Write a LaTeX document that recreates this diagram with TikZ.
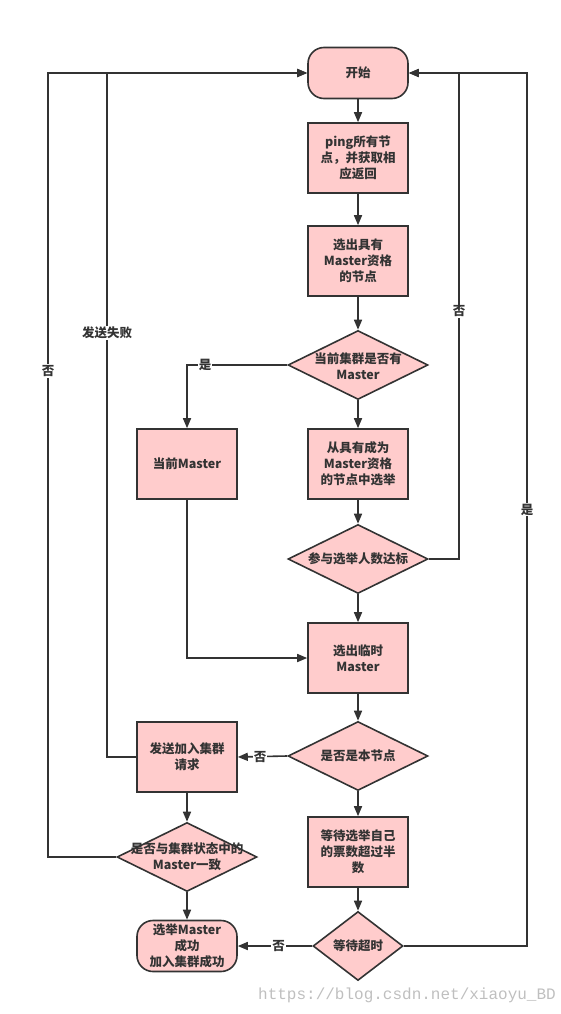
\documentclass[tikz,border=0pt]{standalone}
\usepackage{fontspec}
\setmainfont{Noto Sans CJK SC}
\newfontfamily\wmfont{Liberation Mono}
\usetikzlibrary{shapes.geometric,arrows.meta}
\definecolor{fillpink}{HTML}{FFCCCC}
\definecolor{ink}{HTML}{333333}
\tikzset{
  base/.style={draw=ink, line width=1.6pt, fill=fillpink, text=ink, font=\bfseries\fontsize{12.5}{16}\selectfont, align=center, inner sep=0pt},
  procbox/.style={base, minimum width=100pt, minimum height=70pt},
  termbox/.style={base, rounded corners=16pt, minimum width=100pt, minimum height=51pt},
  decbox/.style={base, shape=diamond, minimum width=140pt, minimum height=69pt},
  smalldec/.style={base, shape=diamond, minimum width=90pt, minimum height=69pt},
  dtext/.style={text=ink, font=\bfseries\fontsize{12.5}{16}\selectfont, align=center, inner sep=0pt},
  lbl/.style={fill=white, text=ink, font=\bfseries\fontsize{12.5}{15}\selectfont, inner sep=1pt},
  arr/.style={draw=ink, line width=1.6pt, -{Triangle[length=10pt,width=8pt]}},
  ln/.style={draw=ink, line width=1.6pt}
}
\begin{document}
\begin{tikzpicture}[x=1pt,y=-1pt]
\useasboundingbox (0,0) rectangle (560,1014);
\node[termbox] (start) at (358,73) {开始};
\node[procbox] (ping) at (358,158) {ping所有节\\点，并获取相\\应返回};
\node[procbox] (sel) at (358,261) {选出具有\\Master资格\\的节点};
\node[decbox] (d1) at (358,365) {};
\node[dtext] (d1t) at (358,366) {当前集群是否有\\Master};
\node[procbox] (elect) at (358,464) {从具有成为\\Master资格\\的节点中选举};
\node[procbox] (cur) at (187,464) {当前Master};
\node[decbox] (d2) at (358,559) {};
\node[dtext] (d2t) at (358,559) {参与选举人数达标};
\node[procbox] (tmp) at (358,658) {选出临时\\Master};
\node[decbox] (d3) at (358,756) {};
\node[dtext] (d3t) at (358,756) {是否是本节点};
\node[procbox] (send) at (187,757) {发送加入集群\\请求};
\node[decbox] (d5) at (187,857) {};
\node[dtext] (d5t) at (187,857) {是否与集群状态中的\\Master一致};
\node[procbox] (wait) at (358,852) {等待选举自己\\的票数超过半\\数};
\node[smalldec] (d4) at (358,946) {};
\node[dtext] (d4t) at (358,946) {等待超时};
\node[termbox] (ok) at (187,946) {选举Master\\成功\\加入集群成功};

\draw[arr] (start) -- (ping);
\draw[arr] (ping) -- (sel);
\draw[arr] (sel) -- (d1);
\draw[arr] (d1) -- (elect);
\draw[arr] (elect) -- (d2);
\draw[arr] (d2) -- (tmp);
\draw[arr] (tmp) -- (d3);
\draw[arr] (d3) -- (wait);
\draw[arr] (wait) -- (d4);
\draw[arr] (send) -- (d5);
\draw[arr] (d5) -- (ok);

\draw[arr] (d1.west) -| node[lbl, pos=0.41] (l1) {是} (cur.north);
\draw[arr] (cur.south) |- (tmp.west);
\draw[arr] (d3.west) -- node[lbl, pos=0.55] (l2) {否} (send.east);
\draw[arr] (d4.west) -- node[lbl, pos=0.45] (l3) {否} (ok.east);

\coordinate (c1) at (459,559);
\coordinate (c2) at (527,946);
\coordinate (c3) at (48,857);
\coordinate (c4) at (107,757);
\draw[arr] (d2.east) -- (c1) -- node[lbl, pos=0.51] (l4) {否} (c1 |- start) -- (start.east);
\draw[arr] (d4.east) -- (c2) -- node[lbl, pos=0.5] (l5) {是} (c2 |- start) -- (start.east);
\draw[arr] (d5.west) -- (c3) -- node[lbl, pos=0.62] (l6) {否} (c3 |- start) -- (start.west);
\draw[arr] (send.west) -- (c4) -- node[lbl, pos=0.62] (l7) {发送失败} (c4 |- start) -- (start.west);

\node[text=black!25, font=\wmfont\fontsize{16}{18}\selectfont, anchor=east, inner sep=0pt] (wm) at (556,995) {https://blog.csdn.net/xiaoyu\_BD};
\end{tikzpicture}
\end{document}
